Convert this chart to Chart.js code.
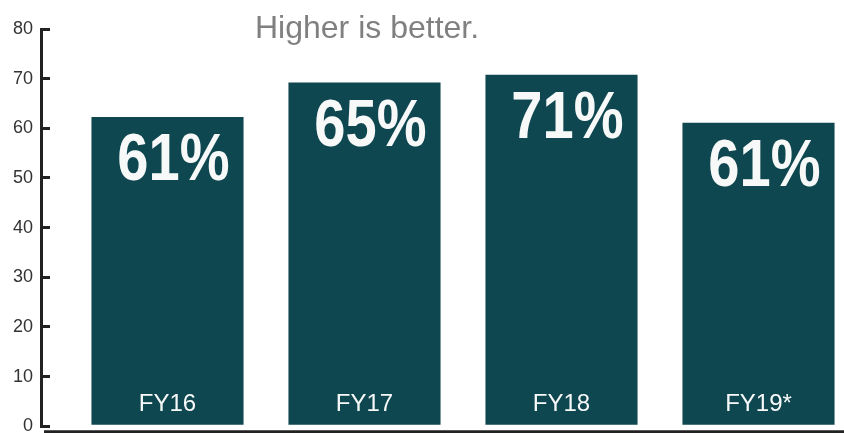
<!DOCTYPE html>
<html>
<head>
<meta charset="utf-8">
<script src="https://cdn.jsdelivr.net/npm/chart.js@4/dist/chart.umd.min.js"></script>
<style>
  html, body { margin: 0; padding: 0; background: #fff; overflow: hidden; }
  /* a bit taller than the window: the axis label padding below 0 falls off the page */
  #wrap { width: 844px; height: 454px; }
</style>
</head>
<body>
<div id="wrap"><canvas id="myChart"></canvas></div>
<script>
const categories = ['FY16', 'FY17', 'FY18', 'FY19*'];
const values = [62.3, 69.2, 70.8, 61.1];
const pctLabels = ['61%', '65%', '71%', '61%'];
const yTicks = [0, 10, 20, 30, 40, 50, 60, 70, 80];
const note = 'Higher is better.';

const barColor = '#0e4750';
const axisColor = '#222222';

const ctx = document.getElementById('myChart');

// labels inside the bars, the note, and the base line under the bars
const barText = {
    id: 'barText',
    afterDatasetsDraw(chart) {
        const c = chart.ctx;
        const meta = chart.getDatasetMeta(0);
        const area = chart.chartArea;
        c.save();
        meta.data.forEach((bar, i) => {
            c.fillStyle = '#f7f9f9';
            c.textAlign = 'center';
            c.textBaseline = 'alphabetic';
            // narrow bold look: squeeze a bold face horizontally
            c.save();
            c.translate(bar.x + 6, bar.y + 63);
            c.scale(0.85, 1);
            c.font = 'bold 66px "Liberation Sans", sans-serif';
            c.fillText(pctLabels[i], 0, 0);
            c.restore();
            c.font = '24px "Liberation Sans", sans-serif';
            c.fillText(categories[i], bar.x, area.bottom - 15);
        });
        c.fillStyle = '#808080';
        c.textAlign = 'left';
        c.font = '32px "Liberation Sans", sans-serif';
        c.fillText(note, 255, 38);
        c.strokeStyle = axisColor;
        c.lineWidth = 3;
        c.beginPath();
        c.moveTo(area.left + 3, area.bottom + 5.5);
        c.lineTo(chart.width, area.bottom + 5.5);
        c.stroke();
        c.restore();
    }
};

new Chart(ctx, {
    type: 'bar',
    data: {
        labels: categories,
        datasets: [{
            data: values.map((v, i) => ({ x: i, y: v })),
            backgroundColor: barColor,
            borderWidth: 0,
            barPercentage: 0.772,
            categoryPercentage: 1
        }]
    },
    options: {
        responsive: true,
        maintainAspectRatio: false,
        animation: false,
        layout: {
            padding: { left: -4, top: 29, right: 0, bottom: 7 }
        },
        plugins: {
            legend: { display: false },
            tooltip: { enabled: false }
        },
        scales: {
            x: {
                type: 'linear',
                display: false,
                offset: false,
                min: -0.642,
                max: 3.434,
                ticks: { stepSize: 1, includeBounds: false }
            },
            y: {
                min: 0,
                max: 80,
                afterBuildTicks: (scale) => {
                    scale.ticks = yTicks.map(v => ({ value: v }));
                },
                border: { display: true, color: axisColor, width: 3 },
                grid: {
                    drawOnChartArea: false,
                    color: axisColor,
                    lineWidth: 3,
                    tickLength: -9
                },
                ticks: {
                    padding: 17,
                    color: '#333333',
                    font: { family: '"Liberation Sans", sans-serif', size: 18 }
                }
            }
        }
    },
    plugins: [barText]
});
</script>
</body>
</html>
